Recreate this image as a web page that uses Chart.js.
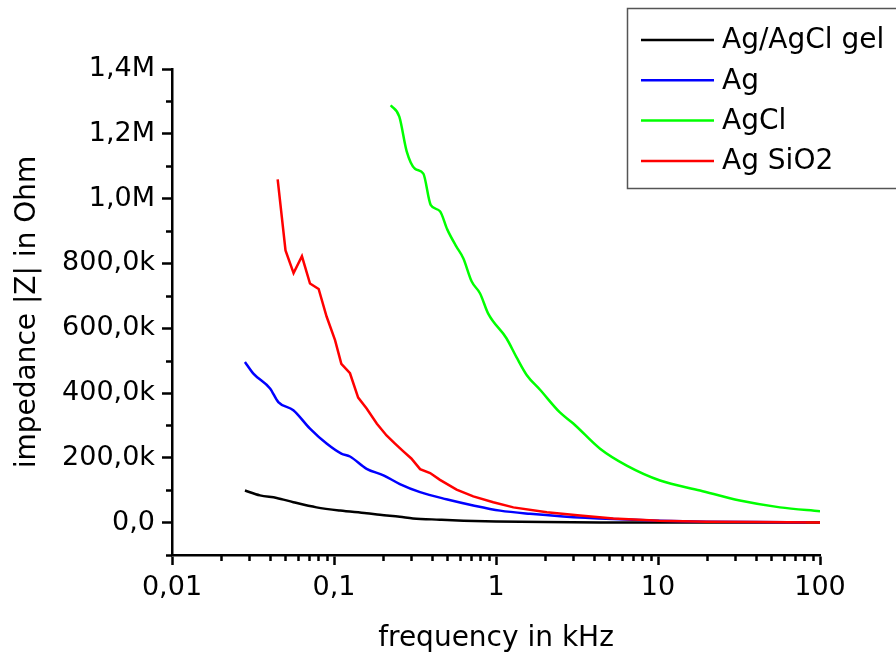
<!DOCTYPE html>
<html>
<head>
<meta charset="utf-8">
<script src="https://cdn.jsdelivr.net/npm/chart.js@4.4.1/dist/chart.umd.min.js"></script>
<style>
html,body{margin:0;padding:0;background:#fff;}
#wrap{width:896px;height:656px;}
</style>
</head>
<body>
<div id="wrap"><canvas id="c" width="896" height="656"></canvas></div>
<script>
// ---- data ----
const seriesNames = ['Ag/AgCl gel', 'Ag', 'AgCl', 'Ag SiO2'];

const freqGel = [0.0282, 0.0349, 0.0443, 0.0561, 0.078, 0.109, 0.159, 0.192, 0.255, 0.307, 0.45, 0.63, 1.0, 2.0, 5.0, 10, 20, 50, 100];
const zGel    = [99000, 84000, 76000, 63000, 47000, 37000, 29000, 24000, 18000, 13000, 9000, 6000, 3500, 1500, 500, 200, 100, 50, 20];

const freqAg = [0.0282, 0.0318, 0.0403, 0.0453, 0.0561, 0.0711, 0.090, 0.111, 0.1255, 0.159, 0.202, 0.255, 0.34, 0.494, 0.724, 1.06, 1.62, 2.6, 5.3, 10.2, 20, 40, 82];
const zAg    = [496000, 460000, 414000, 372000, 347000, 290000, 244000, 213000, 204000, 166000, 146000, 119000, 94000, 72000, 53000, 37000, 27000, 19000, 11000, 6000, 3000, 1500, 800];

const freqAgCl = [0.224, 0.253, 0.281, 0.316, 0.356, 0.395, 0.451, 0.50, 0.566, 0.628, 0.708, 0.796, 0.897, 1.16, 1.34, 1.55, 1.87, 2.48, 3.0, 4.39, 6.41, 10.3, 18.2, 32, 56.6, 100];
const zAgCl    = [1288000, 1253000, 1146000, 1092000, 1077000, 981000, 961000, 905000, 854000, 816000, 744000, 708000, 644000, 569000, 510000, 455000, 410000, 340000, 306000, 228000, 176000, 130000, 99000, 68000, 47000, 35000];

const freqSiO2 = [0.0449, 0.0502, 0.0563, 0.0634, 0.0711, 0.0804, 0.090, 0.1015, 0.111, 0.1255, 0.141, 0.159, 0.184, 0.211, 0.238, 0.268, 0.30, 0.340, 0.392, 0.451, 0.571, 0.724, 0.962, 1.28, 2.06, 3.30, 5.3, 10.2, 20, 40, 100];
const zSiO2    = [1059000, 840000, 770000, 822000, 738000, 721000, 636000, 563000, 490000, 461000, 386000, 352000, 305000, 269000, 244000, 220000, 198000, 165000, 153000, 132000, 102000, 81000, 63000, 47000, 32000, 22000, 13000, 6000, 3000, 1500, 500];

const xTickValues = [0.01, 0.1, 1, 10, 100];
const xTickLabels = ['0,01', '0,1', '1', '10', '100'];
const yTickValues = [0, 200000, 400000, 600000, 800000, 1000000, 1200000, 1400000];
const yTickLabels = ['0,0', '200,0k', '400,0k', '600,0k', '800,0k', '1,0M', '1,2M', '1,4M'];
const xTitle = 'frequency in kHz';
const yTitle = 'impedance |Z| in Ohm';

// ---- styles ----
const lineColors = ['#000000', '#0000ff', '#00ff00', '#ff0000'];
const curveModes = ['monotone', 'monotone', 'monotone', 'default'];
const FONT = "'DejaVu Sans', sans-serif";

const toPts = (xs, ys) => xs.map((x, i) => ({x: x, y: ys[i]}));
const allFreq = [freqGel, freqAg, freqAgCl, freqSiO2];
const allZ = [zGel, zAg, zAgCl, zSiO2];

const datasets = seriesNames.map((name, i) => ({
  label: name,
  data: toPts(allFreq[i], allZ[i]),
  borderColor: lineColors[i],
  backgroundColor: lineColors[i],
  borderWidth: 2.5,
  pointRadius: 0,
  fill: false,
  tension: 0,
  cubicInterpolationMode: curveModes[i],
  order: seriesNames.length - i
}));

// minor ticks + legend box
const extrasPlugin = {
  id: 'extras',
  afterDraw(chart) {
    const ctx = chart.ctx;
    const xs = chart.scales.x, ys = chart.scales.y;
    const area = chart.chartArea;
    ctx.save();
    ctx.strokeStyle = '#000';
    ctx.lineWidth = 2.5;
    ctx.beginPath();
    // y minor ticks
    for (let v = -100000; v <= 1300000; v += 200000) {
      const py = Math.round(ys.getPixelForValue(v)) + 0.5;
      ctx.moveTo(area.left - 6, py);
      ctx.lineTo(area.left, py);
    }
    // x minor ticks (log)
    for (let d = 0.01; d < 100; d *= 10) {
      for (let m = 2; m <= 9; m++) {
        const px = Math.round(xs.getPixelForValue(d * m)) + 0.5;
        ctx.moveTo(px, area.bottom);
        ctx.lineTo(px, area.bottom + 6);
      }
    }
    ctx.stroke();

    // legend
    const bx = 627.5, by = 8.5, bw = 290, bh = 180;
    ctx.fillStyle = '#fff';
    ctx.fillRect(bx, by, bw, bh);
    ctx.strokeStyle = '#555';
    ctx.lineWidth = 1.5;
    ctx.strokeRect(bx, by, bw, bh);
    ctx.font = '28px ' + FONT;
    ctx.textBaseline = 'middle';
    ctx.textAlign = 'left';
    chart.data.datasets.forEach((ds, i) => {
      const ly = 40 + i * 40.3;
      ctx.strokeStyle = ds.borderColor;
      ctx.lineWidth = 2.5;
      ctx.beginPath();
      ctx.moveTo(641, ly);
      ctx.lineTo(714, ly);
      ctx.stroke();
      ctx.fillStyle = '#000';
      ctx.fillText(ds.label, 722, ly + 1);
    });
    ctx.restore();
  }
};

new Chart(document.getElementById('c'), {
  type: 'line',
  data: { datasets: datasets },
  options: {
    responsive: false,
    animation: false,
    devicePixelRatio: 1,
    layout: { padding: { top: 69, right: 76, bottom: 0, left: 0 } },
    plugins: { legend: { display: false }, tooltip: { enabled: false } },
    scales: {
      x: {
        type: 'logarithmic',
        position: 'bottom',
        min: 0.01,
        max: 100,
        afterBuildTicks: (s) => { s.ticks = xTickValues.map(v => ({value: v})); },
        afterFit: (s) => { s.height = 101; },
        ticks: {
          autoSkip: false,
          maxRotation: 0,
          padding: 7,
          color: '#000',
          font: { family: FONT, size: 27 },
          callback: (v, i) => xTickLabels[i]
        },
        grid: { display: true, drawOnChartArea: false, drawTicks: true, tickLength: 10, tickWidth: 2.5, tickColor: '#000' },
        border: { display: true, color: '#000', width: 2.5 },
        title: { display: true, text: xTitle, color: '#000', font: { family: FONT, size: 28 }, padding: { top: 0, bottom: 0 } }
      },
      y: {
        type: 'linear',
        position: 'left',
        min: -100000,
        max: 1400000,
        afterBuildTicks: (s) => { s.ticks = yTickValues.map(v => ({value: v})); },
        afterFit: (s) => { s.width = 172; },
        ticks: {
          autoSkip: false,
          padding: 7,
          color: '#000',
          font: { family: FONT, size: 27 },
          callback: (v, i) => yTickLabels[i]
        },
        grid: { display: true, drawOnChartArea: false, drawTicks: true, tickLength: 10, tickWidth: 2.5, tickColor: '#000' },
        border: { display: true, color: '#000', width: 2.5 },
        title: { display: true, text: yTitle, color: '#000', font: { family: FONT, size: 28 }, padding: { top: 11, bottom: 0 } }
      }
    }
  },
  plugins: [extrasPlugin]
});
</script>
</body>
</html>
